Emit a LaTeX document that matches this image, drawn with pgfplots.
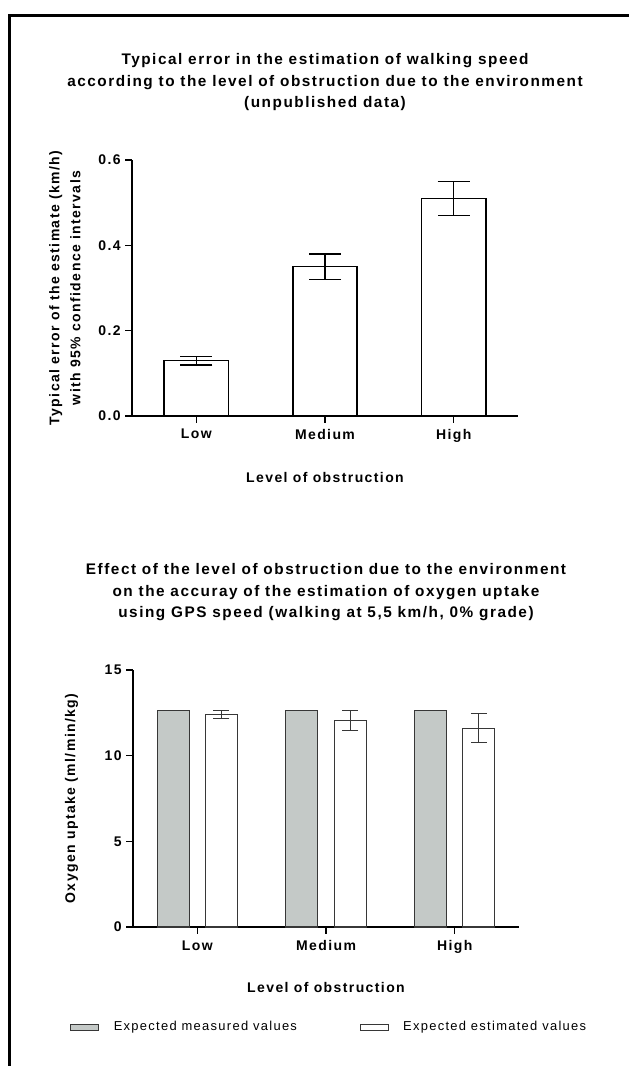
\documentclass[border=0pt]{standalone}
\usepackage{fontspec}
\setmainfont{Liberation Sans}[LetterSpace=10]
\usepackage{pgfplots}
\pgfplotsset{compat=1.18}
\definecolor{barGray}{RGB}{196,201,199}
\definecolor{lineGray}{RGB}{55,55,55}
\pgfplotsset{mylegimg/.style={legend image code/.code={\draw[##1, line width=0.6pt] (0pt,-2.2pt) rectangle (21pt,2.2pt);}}}
\begin{document}
\begin{tikzpicture}[x=0.75pt,y=0.75pt]
\path[use as bounding box] (0,0) rectangle (629,1066);
\draw[line width=2.25pt] (9.5,0) -- (9.5,1050.5) -- (629,1050.5);
\pgfplotsset{
 common/.style={
  scale only axis, width=289.5pt,
  axis x line*=bottom, axis y line*=left,
  axis line style={line width=1.1pt, black},
  xmin=-0.5, xmax=2.5, xtick={0,1,2}, xticklabels={Low,Medium,High},
  tick align=outside, major tick length=5pt,
  tick style={line width=1.1pt, black},
  ymin=0,
  /pgf/number format/assume math mode=true,
  tick label style={font=\fontsize{10.5}{12}\selectfont\bfseries},
  xticklabel style={yshift=-1.5pt},
  label style={font=\fontsize{10.5}{15.75}\selectfont\bfseries},
  every axis title shift=0pt,
  title style={font=\fontsize{11.5}{16.3}\selectfont\bfseries, align=center, anchor=center},
  xlabel={Level of obstruction},
  clip=false,
  ybar,
 }
}
% ---------- top chart ----------
\begin{axis}[common,
  at={(99pt,487.5pt)}, anchor=south west, height=192pt,
  ymax=0.6, ytick={0,0.2,0.4,0.6},
  yticklabel style={/pgf/number format/.cd, fixed, fixed zerofill, precision=1},
  bar width=0.5,
  title={Typical error in the estimation of walking speed\\according to the level of obstruction due to the environment\\(unpublished data)},
  title style={at={(axis description cs:0.5,1.304)}, anchor=center},
  ylabel={Typical error of the estimate (km/h)\\with 95\% confidence intervals},
  ylabel style={align=center, at={(axis description cs:-0.174,0.5)}, anchor=center},
  xlabel style={at={(axis description cs:0.5,-0.242)}, anchor=center},
]
\addplot[draw=black, fill=white, line width=1.1pt, bar shift=0,
  error bars/.cd, y dir=both, y explicit,
  error bar style={line width=1.1pt, black},
  error mark options={rotate=90, line width=1.1pt, black, mark size=12pt}]
  coordinates {(0,0.13) +- (0,0.01) (1,0.35) +- (0,0.03) (2,0.51) +- (0,0.04)};
\end{axis}
% ---------- bottom chart ----------
\begin{axis}[common,
  at={(99.75pt,104.25pt)}, anchor=south west, height=192.75pt,
  ymax=15, ytick={0,5,10,15},
  bar width=0.25,
  title={Effect of the level of obstruction due to the environment\\on the accuray of the estimation of oxygen uptake\\using GPS speed (walking at 5,5 km/h, 0\% grade)},
  title style={at={(axis description cs:0.5,1.303)}, anchor=center},
  ylabel={Oxygen uptake (ml/min/kg)},
  ylabel style={at={(axis description cs:-0.159,0.5)}, anchor=center},
  xlabel style={at={(axis description cs:0.5,-0.237)}, anchor=center},
  legend columns=2,
  legend style={at={(axis description cs:-0.163,-0.389)}, anchor=west, draw=none, fill=none,
    font=\fontsize{9.7}{11}\selectfont, inner sep=0pt,
    /tikz/every odd column/.append style={column sep=9pt},
    /tikz/every even column/.append style={column sep=45pt}},
]
\addplot[draw=lineGray, fill=barGray, line width=0.8pt, bar shift=-0.1875, mylegimg]
  coordinates {(0,12.65) (1,12.65) (2,12.65)};
\addlegendentry{Expected measured values}
\addplot[draw=lineGray, fill=white, line width=0.8pt, bar shift=0.1875, mylegimg,
  error bars/.cd, y dir=both, y explicit,
  error bar style={line width=0.8pt, lineGray},
  error mark options={rotate=90, line width=0.8pt, lineGray, mark size=6pt}]
  coordinates {(0,12.4) +- (0,0.22) (1,12.05) +- (0,0.57) (2,11.6) +- (0,0.85)};
\addlegendentry{Expected estimated values}
\end{axis}
\end{tikzpicture}
\end{document}
